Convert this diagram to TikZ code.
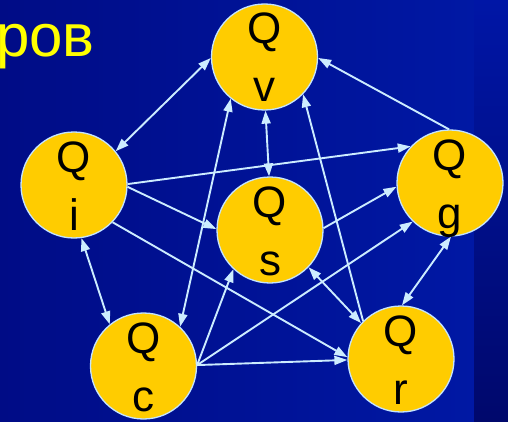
\documentclass[tikz,border=0pt]{standalone}
\usepackage{fontspec}
\setmainfont{Liberation Sans}
\usetikzlibrary{arrows.meta}
\definecolor{bgdark}{HTML}{000C86}
\definecolor{bglight}{HTML}{0018A4}
\definecolor{stripTop}{HTML}{0016A6}
\definecolor{stripBot}{HTML}{00086C}
\definecolor{ballyellow}{HTML}{FFCC00}
\definecolor{rimblue}{HTML}{C4E4FF}
\definecolor{linkblue}{HTML}{CCECFF}
\definecolor{titleyellow}{HTML}{FFFF00}
\tikzset{
  ball/.style={circle, fill=ballyellow, draw=rimblue, line width=1.3pt, minimum size=106pt, inner sep=0pt},
  qtxt/.style={anchor=base, inner sep=0pt, font=\fontsize{44}{44}\selectfont, text=black},
  conn/.style={draw=linkblue, line width=1.9pt},
  onehead/.style={conn, -{Triangle[length=13pt,width=9pt]}},
  twohead/.style={conn, {Triangle[length=13pt,width=9pt]}-{Triangle[length=13pt,width=9pt]}}
}
\begin{document}
\begin{tikzpicture}[x=1pt,y=1pt]
\useasboundingbox (0,0) rectangle (508,421);
% background
\shade[shading=axis, shading angle=45, left color=bgdark, right color=bglight] (0,0) rectangle (474,421);
\shade[top color=stripTop, bottom color=stripBot] (474,0) rectangle (508,421);
% title fragment
\node[anchor=base west, inner sep=0pt, text=titleyellow, font=\fontsize{60}{60}\selectfont] (title) at (-4,364) {ров};
% circles
\node[ball] (v) at (264.5,364) {};
\node[ball] (i) at (74,236) {};
\node[ball] (s) at (270,191) {};
\node[ball] (g) at (450,238) {};
\node[ball] (c) at (143.5,55) {};
\node[ball] (r) at (401,62) {};
% labels
\foreach \n/\l in {v/v, i/i, s/s, g/g, c/c, r/r}{
  \node[qtxt] (\n Q) at ([yshift=13pt]\n.center) {Q};
  \node[qtxt] (\n L) at ([yshift=-45pt]\n.center) {\l};
}
% connectors
\draw[twohead] (i.39) -- (v.181);
\draw[twohead] (c.47) -- (v.231);
\draw[onehead] (c.1) -- (s.227);
\draw[onehead] (c.1) -- (g.226);
\draw[onehead] (c.1) -- (r.181);
\draw[onehead] (r.135) -- (v.316);
\draw[twohead] (s.316) -- (r.138);
\draw[twohead] (s.91) -- (v.271);
\draw[onehead] (g.91) -- (v.359);
\draw[onehead] (i.1) -- (g.137);
\draw[onehead] (i.358) -- (s.179);
\draw[onehead] (i.316) -- (r.178);
\draw[twohead] (c.129) -- (i.278);
\draw[onehead] (s.2) -- (g.184);
\draw[twohead] (r.89) -- (g.271);
\end{tikzpicture}
\end{document}
